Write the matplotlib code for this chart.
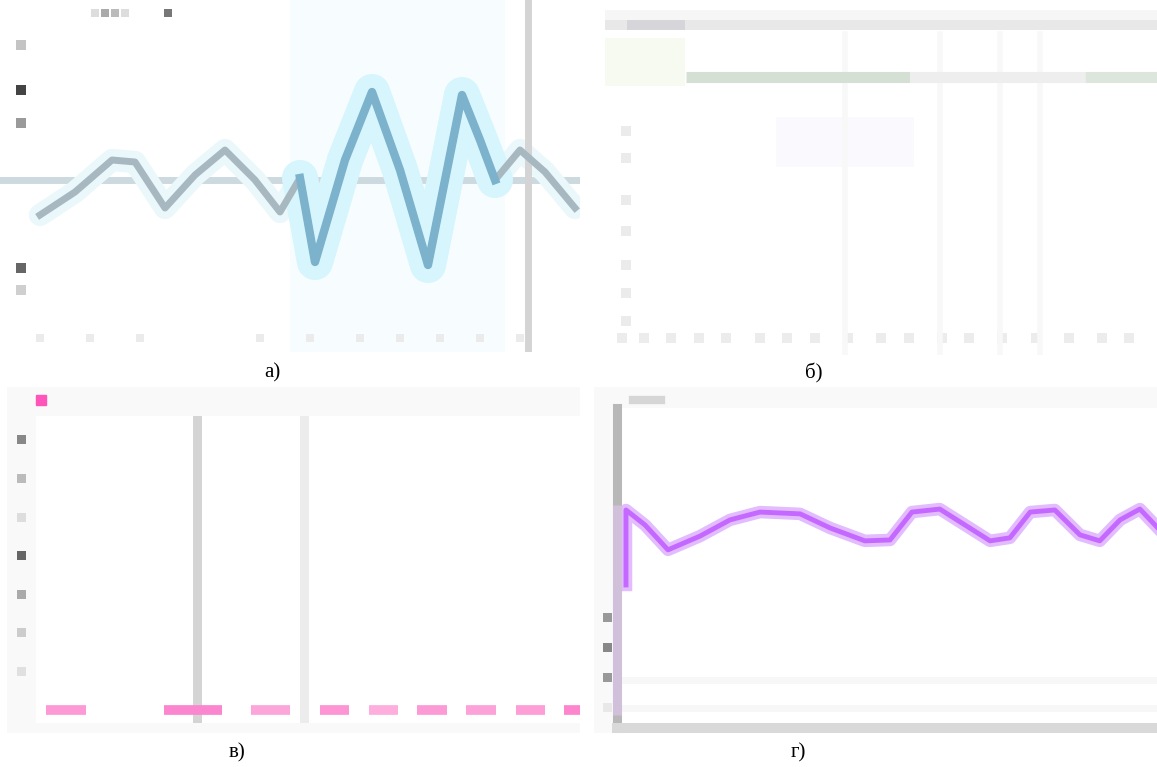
import matplotlib.pyplot as plt
from matplotlib.lines import Line2D

W, H = 1157, 767

# а) signal: small wobble, a big burst in the middle, small wobble again
a_t = [4.0, 7.5, 11.2, 13.5, 16.5, 19.5, 22.5, 25.5, 28.0, 30.0, 31.5,
       34.5, 37.2, 40.0, 42.8, 44.5, 46.2, 48.0, 49.5, 52.0, 54.5, 57.5]
a_amp = [-3.5, -1.2, 2.0, 1.8, -2.8, 0.5, 3.0, 0.0, -3.2, 0.2, -8.2,
         2.0, 8.8, 1.0, -8.5, 0.0, 8.5, 4.0, 0.0, 3.0, 0.8, -2.8]
a_burst = (30.0, 49.5)
a_marker_t = 52.8
a_tick_amp = [13.5, 9.0, 5.7, -8.8, -11.0]
a_title_t = [9.5, 10.5, 11.5, 12.5, 16.8]
a_xtick_t = [4, 9, 14, 26, 31, 36, 40, 44, 48, 52]

# б) nearly empty table-like chart with one level line
b_level = 80.6
b_level_from = [14.7, 55.3, 87.0]
b_level_to = [55.3, 87.0, 100.0]
b_grid_x = [43.5, 60.7, 71.6, 78.8]
b_ytick_v = [65, 57, 45, 36, 26, 18, 10]
b_xtick_x = [3, 7, 12, 17, 22, 28, 33, 38, 44, 50, 55, 61, 66, 72, 78, 84, 90, 95]

# в) pink series sitting at zero, two marker bands
c_seg_start = [1.8, 23.5, 39.5, 52.2, 61.2, 70.0, 79.0, 88.2, 97.1]
c_seg_end = [9.2, 34.2, 46.7, 57.5, 66.5, 75.6, 84.6, 93.6, 100.0]
c_seg_value = [0, 0, 0, 0, 0, 0, 0, 0, 0]
c_band_lo = [28.9, 48.5]
c_band_hi = [30.5, 50.2]
c_yticks = [10, 20, 30, 40, 50, 60, 70]

# г) purple series with damped ripple
d_x = [0.75, 0.75, 4.3, 8.6, 14.6, 20.2, 25.8, 33.3, 38.9, 45.4, 50.1, 54.2,
       59.4, 64.1, 68.8, 72.5, 76.3, 80.9, 85.6, 89.3, 93.1, 96.8, 100.0]
d_y = [4.1, 6.6, 6.1, 5.27, 5.73, 6.27, 6.53, 6.47, 6.0, 5.57, 5.6, 6.53,
       6.63, 6.1, 5.57, 5.67, 6.53, 6.6, 5.77, 5.57, 6.27, 6.63, 6.03]
d_yticks = [0, 1, 2, 3]
d_grid_y = [0, 0.93]
d_span = (-0.23, 6.77)

# greys used for the blurred tick labels
a_tick_shade = ['#c4c4c4', '#444444', '#9a9a9a', '#666666', '#cfcfcf']
a_title_shade = ['#dddddd', '#aaaaaa', '#bbbbbb', '#dddddd', '#777777']
c_band_shade = ['#d4d4d4', '#ececec']
c_tick_shade = ['#e0e0e0', '#cccccc', '#aaaaaa', '#666666', '#dddddd', '#bbbbbb', '#888888']
c_seg_shade = ['#fd9ad5', '#fb85ce', '#fca5da', '#fd95d4', '#fdaedd', '#fb9ad5',
               '#fca2d9', '#fd9ed7', '#fd85ce']
d_tick_shade = ['#e8e8e8', '#999999', '#888888', '#999999']

fig = plt.figure(figsize=(W / 100, H / 100), dpi=100)


def px_axes(x0, y0, x1, y1, color='white'):
    ax = fig.add_axes([x0 / W, 1 - y1 / H, (x1 - x0) / W, (y1 - y0) / H])
    ax.set_facecolor(color)
    ax.set_xticks([])
    ax.set_yticks([])
    for s in ax.spines.values():
        s.set_visible(False)
    return ax


# ---- а)
ax = px_axes(0, 0, 580, 352)
ax.set_xlim(0, 58)
ax.set_ylim(-17.2, 18)
bt = [t for t in a_t if a_burst[0] <= t <= a_burst[1]]
bv = [v for t, v in zip(a_t, a_amp) if a_burst[0] <= t <= a_burst[1]]
ax.axvspan(a_burst[0] - 1, a_burst[1] + 1, color='#f7fdff', lw=0, zorder=0)
ax.axhline(0, color='#ccdae0', lw=5, zorder=1)
ax.plot(a_t, a_amp, color='#eaf8fc', lw=16, zorder=1, solid_capstyle='round')
ax.plot(bt, bv, color='#d6f5fc', lw=26, zorder=1, solid_capstyle='round')
ax.plot(a_t, a_amp, color='#a8b8c1', lw=5, zorder=2)
ax.plot(bt, bv, color='#7cb2cc', lw=6, zorder=3)
ax.axvline(a_marker_t, color='#d4d4d4', lw=5, zorder=1)
ax.scatter([2.1] * len(a_tick_amp), a_tick_amp, marker='s', s=42, c=a_tick_shade, lw=0)
ax.scatter(a_title_t, [16.7] * len(a_title_t), marker='s', s=30, c=a_title_shade, lw=0)
ax.scatter(a_xtick_t, [-15.8] * len(a_xtick_t), marker='s', s=36, c='#ebebeb', lw=0)

# ---- б)
ax = px_axes(605, 10, 1157, 355)
ax.set_xlim(0, 100)
ax.set_ylim(0, 100)
ax.axhspan(97.1, 100, color='#f6f6f6', lw=0)
ax.axhspan(94.2, 97.1, color='#e8e8e8', lw=0)
ax.axhspan(94.2, 97.1, xmin=0.04, xmax=0.145, color='#d6d6da', lw=0)
ax.axhspan(78, 92, xmin=0.0, xmax=0.145, color='#f6faf1', lw=0)
ax.axhspan(54.5, 69, xmin=0.31, xmax=0.56, color='#fafafe', lw=0)
for gx in b_grid_x:
    ax.axvline(gx, ymax=0.93, color='#f8f8f8', lw=4)
ax.hlines([b_level] * 3, b_level_from, b_level_to,
          colors=['#d3e0d3', '#eeeeee', '#dde6dd'], lw=8)
ax.scatter([3.8] * len(b_ytick_v), b_ytick_v, marker='s', s=50, c='#ebebeb', lw=0)
ax.scatter(b_xtick_x, [4.9] * len(b_xtick_x), marker='s', s=50, c='#ececec', lw=0)

# ---- в)
bg = px_axes(7, 387, 580, 733, '#f9f9f9')
ax = px_axes(36, 416, 580, 723)
ax.set_xlim(0, 100)
ax.set_ylim(-3.4, 76.2)
for lo, hi, shade in zip(c_band_lo, c_band_hi, c_band_shade):
    ax.axvspan(lo, hi, color=shade, lw=0, zorder=0)
ax.hlines(c_seg_value, c_seg_start, c_seg_end, colors=c_seg_shade, lw=7, zorder=2)
ax.scatter([-2.7] * len(c_yticks), c_yticks, marker='s', s=42, c=c_tick_shade,
           lw=0, clip_on=False)
ax.legend(handles=[Line2D([], [], ls='none', marker='s', ms=7, color='#ff55bb')],
          labels=[' '], loc='upper left', frameon=False, borderpad=0,
          borderaxespad=0, handlelength=1, handletextpad=0.2,
          bbox_to_anchor=(34 / W, 1 - 394 / H), bbox_transform=fig.transFigure)

# ---- г)
bg = px_axes(594, 387, 1157, 733, '#f9f9f9')
ax = px_axes(617, 408, 1157, 728)
ax.set_xlim(-0.93, 100)
ax.set_ylim(-0.67, 10)
ax.spines['left'].set_visible(True)
ax.spines['left'].set_color('#b8b8b8')
ax.spines['left'].set_linewidth(6.5)
ax.spines['bottom'].set_visible(True)
ax.spines['bottom'].set_color('#d9d9d9')
ax.spines['bottom'].set_linewidth(7.2)
for gy in d_grid_y:
    ax.axhline(gy, color='#f7f7f7', lw=5, zorder=0)
ax.plot([-0.93, -0.93], d_span, color='#d0c0da', lw=6.5, clip_on=False,
        solid_capstyle='butt', zorder=4)
ax.plot(d_x, d_y, color='#e2bcfe', lw=9, zorder=2)
ax.plot(d_x, d_y, color='#c468ff', lw=3.5, zorder=3)
ax.scatter([-2.7] * len(d_yticks), d_yticks, marker='s', s=42, c=d_tick_shade,
           lw=0, clip_on=False)
ax.legend(handles=[Line2D([], [], color='#d6d6d6', lw=6)], labels=[' '],
          loc='upper left', frameon=False, borderpad=0, borderaxespad=0,
          handlelength=2, handletextpad=0.2,
          bbox_to_anchor=(633 / W, 1 - 394 / H), bbox_transform=fig.transFigure)

# panel captions
captions = ['а)', 'б)', 'в)', 'г)']
caption_xy = [(272, 373), (814, 373), (237, 753), (798, 753)]
for text, (x, y) in zip(captions, caption_xy):
    fig.text(x / W, 1 - y / H, text, ha='center', va='center',
             fontsize=15, family='Liberation Serif')

fig.savefig('out.png', dpi=100)
